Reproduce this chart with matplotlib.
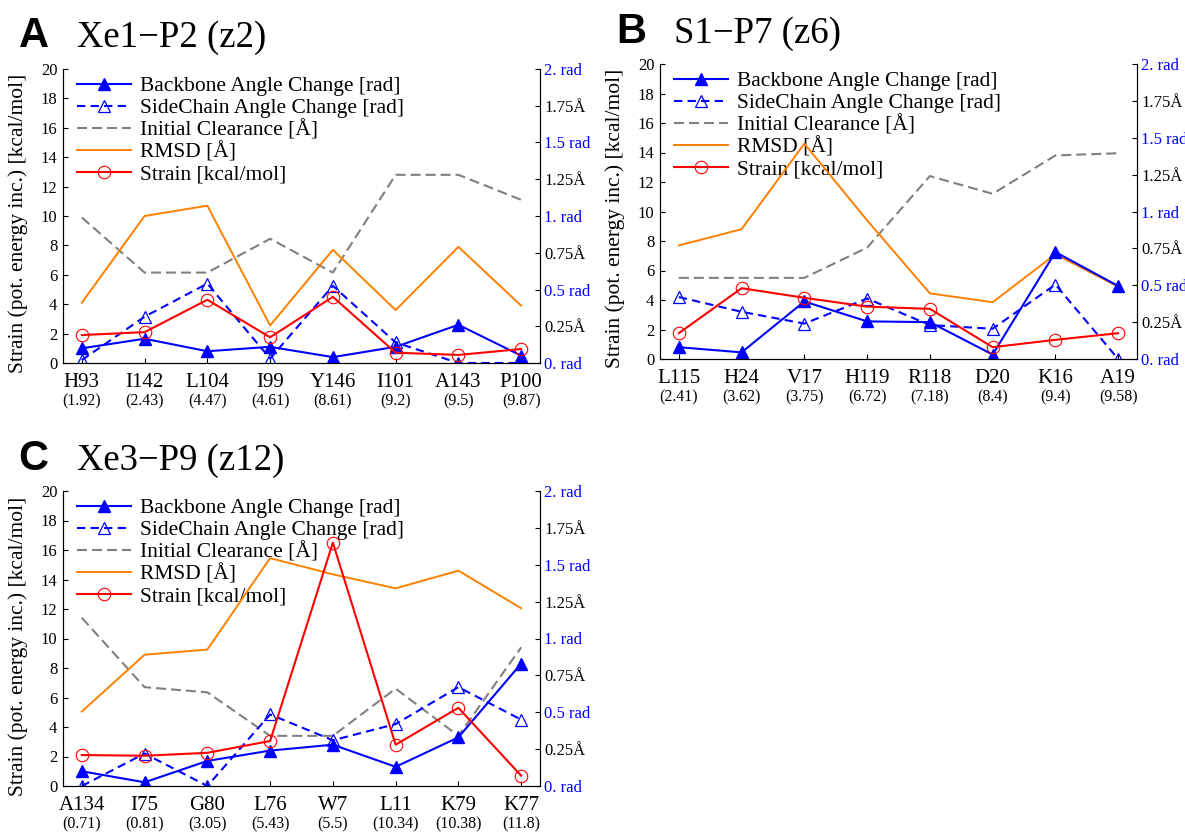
import numpy as np
import matplotlib as mpl
import matplotlib.pyplot as plt

mpl.rcParams.update({
    "font.family": "serif",
    "font.serif": ["Liberation Serif", "DejaVu Serif"],
    "axes.linewidth": 0.8,
    "xtick.direction": "in",
    "ytick.direction": "in",
    "xtick.major.size": 3.5,
    "ytick.major.size": 3.5,
    "xtick.major.width": 0.8,
    "ytick.major.width": 0.8,
})

C_BLUE = "#0000FF"
C_ORANGE = "#FF8000"
C_GRAY = "#808080"
C_RED = "#FF0000"

# ---------------------------------------------------------------- data
# panel A  Xe1-P2 (z2)
a_res = ["H93", "I142", "L104", "I99", "Y146", "I101", "A143", "P100"]
a_dist = ["1.92", "2.43", "4.47", "4.61", "8.61", "9.2", "9.5", "9.87"]
a_backbone = [1.0, 1.65, 0.8, 1.1, 0.4, 1.1, 2.6, 0.5]
a_sidechain = [0.2, 3.15, 5.4, 0.3, 5.25, 1.4, 0.0, 0.0]
a_clearance = [9.9, 6.15, 6.15, 8.45, 6.15, 12.8, 12.8, 11.1]
a_rmsd = [4.1, 10.0, 10.7, 2.55, 7.7, 3.6, 7.9, 3.9]
a_strain = [1.9, 2.1, 4.3, 1.75, 4.5, 0.7, 0.55, 0.95]

# panel B  S1-P7 (z6)
b_res = ["L115", "H24", "V17", "H119", "R118", "D20", "K16", "A19"]
b_dist = ["2.41", "3.62", "3.75", "6.72", "7.18", "8.4", "9.4", "9.58"]
b_backbone = [0.8, 0.45, 3.9, 2.55, 2.5, 0.3, 7.25, 4.95]
b_sidechain = [4.2, 3.2, 2.4, 4.1, 2.3, 2.05, 5.05, 0.0]
b_clearance = [5.5, 5.5, 5.5, 7.55, 12.4, 11.2, 13.8, 13.95]
b_rmsd = [7.7, 8.8, 14.6, 9.4, 4.45, 3.85, 7.1, 4.9]
b_strain = [1.75, 4.8, 4.15, 3.55, 3.4, 0.8, 1.3, 1.75]

# panel C  Xe3-P9 (z12)
c_res = ["A134", "I75", "G80", "L76", "W7", "L11", "K79", "K77"]
c_dist = ["0.71", "0.81", "3.05", "5.43", "5.5", "10.34", "10.38", "11.8"]
c_backbone = [1.0, 0.25, 1.7, 2.4, 2.8, 1.3, 3.3, 8.3]
c_sidechain = [0.0, 2.2, 0.0, 4.85, 3.1, 4.2, 6.7, 4.5]
c_clearance = [11.4, 6.7, 6.35, 3.4, 3.4, 6.6, 3.4, 9.4]
c_rmsd = [5.05, 8.9, 9.25, 15.45, 14.35, 13.4, 14.6, 12.05]
c_strain = [2.1, 2.05, 2.25, 3.05, 16.5, 2.8, 5.3, 0.7]

right_ticks = [0, 0.25, 0.5, 0.75, 1.0, 1.25, 1.5, 1.75, 2.0]
right_labels = ["0. rad", "0.25Å", "0.5 rad", "0.75Å", "1. rad",
                "1.25Å", "1.5 rad", "1.75Å", "2. rad"]

panels = [
    ("A", "Xe1\u2212P2 (z2)", a_res, a_dist, a_backbone, a_sidechain,
     a_clearance, a_rmsd, a_strain),
    ("B", "S1\u2212P7 (z6)", b_res, b_dist, b_backbone, b_sidechain,
     b_clearance, b_rmsd, b_strain),
    ("C", "Xe3\u2212P9 (z12)", c_res, c_dist, c_backbone, c_sidechain,
     c_clearance, c_rmsd, c_strain),
]

# axes boxes in pixels (left, top, right, bottom), letter/title positions
W, H = 1185, 833
boxes = [(63, 69, 540, 363), (660, 64, 1137, 359), (63, 491, 540, 786)]
heads = [(19, 77, 47), (616, 674, 43), (18, 77, 470)]

fig = plt.figure(figsize=(W / 100, H / 100), dpi=100)

for (letter, title, res, dist, bb, sc, cl, rm, st), box, head in zip(panels, boxes, heads):
    l, t, r, b = box
    ax = fig.add_axes([l / W, 1 - b / H, (r - l) / W, (b - t) / H])
    x = np.arange(len(res))

    ax.plot(x, bb, color=C_BLUE, lw=1.5, marker="^", ms=9,
            label="Backbone Angle Change [rad]", zorder=4)
    ax.plot(x, sc, color=C_BLUE, lw=1.5, ls=(0, (4, 2.5)), marker="^", ms=8,
            mfc="none", mec=C_BLUE, mew=0.9,
            label="SideChain Angle Change [rad]", zorder=4)
    ax.plot(x, cl, color=C_GRAY, lw=1.5, ls=(0, (4.8, 2.4)),
            label="Initial Clearance [Å]", zorder=3)
    ax.plot(x, rm, color=C_ORANGE, lw=1.4, label="RMSD [Å]", zorder=3)
    ax.plot(x, st, color=C_RED, lw=1.5, marker="o", ms=9, mfc="none",
            mec=C_RED, mew=0.8, label="Strain [kcal/mol]", zorder=4)

    ax.set_xlim(-0.3, 7.3)
    ax.set_ylim(0, 20)
    ax.set_yticks(np.arange(0, 21, 2))
    ax.tick_params(axis="y", labelsize=12, pad=4)
    ax.set_xticks(x)
    ax.set_xticklabels([])
    ax.spines["top"].set_visible(False)
    ax.set_ylabel("Strain (pot. energy inc.) [kcal/mol]", fontsize=15.5)
    ax.yaxis.set_label_coords(-0.074, 0.475)

    for i, (name, d) in enumerate(zip(res, dist)):
        ax.annotate(name, xy=(i, 0), xycoords=("data", "axes fraction"),
                    xytext=(0, -14), textcoords="offset points",
                    ha="center", va="center", fontsize=15)
        ax.annotate("(" + d + ")", xy=(i, 0), xycoords=("data", "axes fraction"),
                    xytext=(0, -28), textcoords="offset points",
                    ha="center", va="center", fontsize=11.5)

    leg = ax.legend(loc="upper left", bbox_to_anchor=(0.029, 0.975),
                    frameon=False, fontsize=15.5, handlelength=2.5,
                    handletextpad=0.42, labelspacing=0.08, borderpad=0,
                    borderaxespad=0)
    leg.set_zorder(1)

    ax2 = ax.twinx()
    ax2.set_ylim(0, 2)
    ax2.set_yticks(right_ticks)
    ax2.set_yticklabels(right_labels)
    ax2.tick_params(axis="y", labelsize=12, pad=3)
    for lab in ax2.get_yticklabels():
        lab.set_color(C_BLUE if "rad" in lab.get_text() else "black")
    ax2.spines["top"].set_visible(False)

    lx, tx, base = head
    fig.text(lx / W, 1 - base / H, letter, fontsize=30, fontweight="bold",
             family="Liberation Sans", va="baseline", ha="left")
    fig.text(tx / W, 1 - base / H, title, fontsize=26.5, va="baseline",
             ha="left")

fig.savefig("out.png", dpi=100)
